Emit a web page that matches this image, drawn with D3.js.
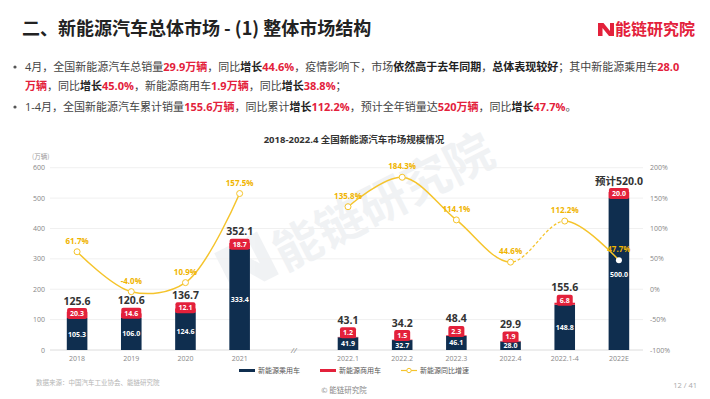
<!DOCTYPE html>
<html>
<head>
<meta charset="utf-8">
<script src="https://cdn.jsdelivr.net/npm/d3@7"></script>
<style>
  body { margin: 0; background: #fff; }
  svg { display: block; font-family: "Open Sans", "Noto Sans CJK SC", sans-serif; }
</style>
</head>
<body>
<svg id="chart" width="710" height="399"></svg>
<script>
// categories, "gap" is the // break between years and months
const categories = ["2018", "2019", "2020", "2021", "gap", "2022.1", "2022.2", "2022.3", "2022.4", "2022.1-4", "2022E"];
const passenger = [105.3, 106.0, 124.6, 333.4, null, 41.9, 32.7, 46.1, 28.0, 148.8, 500.0];
const commercial = [20.3, 14.6, 12.1, 18.7, null, 1.2, 1.5, 2.3, 1.9, 6.8, 20.0];
const totals = [125.6, 120.6, 136.7, 352.1, null, 43.1, 34.2, 48.4, 29.9, 155.6, 520.0];
const growth = [61.7, -4.0, 10.9, 157.5, null, 135.8, 184.3, 114.1, 44.6, 112.2, 47.7];
const leftTicks = [0, 100, 200, 300, 400, 500, 600];
const rightTicks = [-100, -50, 0, 50, 100, 150, 200];

const navy = "#0f2e4f", red = "#e3213b", gold = "#f5c42c", goldText = "#f0b400";

const svg = d3.select("#chart");

// header
svg.append("text")
  .attr("x", 22).attr("y", 35)
  .style("font-family", "'Noto Sans CJK SC'")
  .style("font-size", "18px").style("font-weight", "bold").style("fill", "#222")
  .text("二、新能源汽车总体市场 - (1) 整体市场结构");

svg.append("path")
  .attr("d", "M598,23 L603.5,23 L610,31 L610,23 L614,23 L614,36 L609,36 L602.5,28 L602.5,36 L598,36 Z")
  .style("fill", red);
svg.append("text")
  .attr("x", 615).attr("y", 35)
  .style("font-family", "'Noto Sans CJK SC'")
  .style("font-size", "16px").style("font-weight", "bold").style("fill", red)
  .text("能链研究院");

// bullet text
const N = 0, R = 1, B = 2;
const bullets = [
  { y: 71, dot: true, parts: [["4月，全国新能源汽车总销量", N], ["29.9万辆", R], ["，同比", N], ["增长", B], ["44.6%", R], ["，疫情影响下，市场", N], ["依然高于去年同期", B], ["，", N], ["总体表现较好", B], ["；其中新能源乘用车", N], ["28.0", R]] },
  { y: 90, dot: false, parts: [["万辆", R], ["，同比", N], ["增长", B], ["45.0%", R], ["，新能源商用车", N], ["1.9万辆", R], ["，同比", N], ["增长", B], ["38.8%", R], ["；", N]] },
  { y: 111, dot: true, parts: [["1-4月，全国新能源汽车累计销量", N], ["155.6万辆", R], ["，同比累计", N], ["增长", B], ["112.2%", R], ["，预计全年销量达", N], ["520万辆", R], ["，同比", N], ["增长", B], ["47.7%", R], ["。", N]] }
];
bullets.forEach(b => {
  if (b.dot) {
    svg.append("circle").attr("cx", 15).attr("cy", b.y - 4).attr("r", 1.6).style("fill", "#555");
  }
  const t = svg.append("text")
    .attr("x", 25).attr("y", b.y)
    .style("font-size", "11px").style("fill", "#444");
  t.selectAll("tspan").data(b.parts).enter().append("tspan")
    .text(d => d[0])
    .style("font-weight", d => d[1] == N ? "normal" : "bold")
    .style("fill", d => d[1] == R ? red : (d[1] == B ? "#222" : "#444"));
});

// chart title
svg.append("text")
  .attr("x", 354).attr("y", 143).attr("text-anchor", "middle")
  .style("font-size", "9.5px").style("font-weight", "bold").style("fill", "#333")
  .text("2018-2022.4 全国新能源汽车市场规模情况");

// scales
const x = d3.scaleBand().domain(categories).range([50, 646]).paddingInner(0.62).paddingOuter(0.31);
const y = d3.scaleLinear().domain([0, 600]).range([350, 167.7]);
const y2 = d3.scaleLinear().domain([-100, 200]).range([350, 167.7]);

// watermark
const wm = svg.append("g")
  .attr("transform", "translate(236,296) rotate(-27)")
  .style("opacity", 0.12);
wm.append("path")
  .attr("d", "M0,-48 L16,-48 L36,-18 L36,-48 L48,-48 L48,0 L32,0 L12,-30 L12,0 L0,0 Z")
  .style("fill", "#8a99aa");
wm.append("text")
  .attr("x", 54).attr("y", 0)
  .style("font-family", "'Noto Sans CJK SC'")
  .style("font-size", "48px").style("font-weight", "bold").style("fill", "#8a99aa")
  .text("能链研究院");

// gridlines
svg.append("g").selectAll("line").data(leftTicks).enter().append("line")
  .attr("x1", 50).attr("x2", 643)
  .attr("y1", d => y(d)).attr("y2", d => y(d))
  .style("stroke", d => d == 0 ? "#dcdcdc" : "#f0f0f0").style("stroke-width", 1);

svg.append("g").selectAll("text").data(leftTicks).enter().append("text")
  .attr("x", 45).attr("y", d => y(d) + 2.5).attr("text-anchor", "end")
  .style("font-size", "7px").style("fill", "#888")
  .text(d => d);

svg.append("g").selectAll("text").data(rightTicks).enter().append("text")
  .attr("x", 650).attr("y", d => y2(d) + 2.5)
  .style("font-size", "7px").style("fill", "#888")
  .text(d => d + "%");

svg.append("text")
  .attr("x", 32).attr("y", 159)
  .style("font-family", "'Noto Sans CJK SC'")
  .style("font-size", "6.5px").style("fill", "#999")
  .text("(万辆)");

// x labels
svg.append("g").selectAll("text").data(categories).enter().append("text")
  .attr("x", d => x(d) + x.bandwidth() / 2)
  .attr("y", d => d == "gap" ? 352.5 : 361)
  .attr("text-anchor", "middle")
  .style("font-size", d => d == "gap" ? "8px" : "7px")
  .style("font-style", d => d == "gap" ? "italic" : "normal")
  .style("fill", "#888")
  .text(d => d == "gap" ? "//" : d);

// bars
const rows = categories.map((c, i) => ({
  cat: c, pv: passenger[i], cv: commercial[i], tot: totals[i], g: growth[i]
}));
const barRows = rows.filter(d => d.pv != null);

const bars = svg.append("g");
bars.selectAll(".pv").data(barRows).enter().append("rect")
  .attr("x", d => x(d.cat)).attr("width", x.bandwidth())
  .attr("y", d => y(d.pv)).attr("height", d => y(0) - y(d.pv))
  .style("fill", navy);
bars.selectAll(".cv").data(barRows).enter().append("rect")
  .attr("x", d => x(d.cat)).attr("width", x.bandwidth())
  .attr("y", d => y(d.pv + d.cv)).attr("height", d => y(d.pv) - y(d.pv + d.cv))
  .style("fill", red);

// red label boxes sitting on top of the navy bars
const boxH = 11;
const cvLab = bars.selectAll(".cvlab").data(barRows).enter().append("g");
cvLab.append("text")
  .attr("x", d => x(d.cat) + x.bandwidth() / 2)
  .attr("y", d => y(d.pv) - boxH / 2 + 3.5)
  .attr("text-anchor", "middle")
  .style("font-size", "7px").style("font-weight", "bold").style("fill", "#fff")
  .text(d => d.cv.toFixed(1))
  .each(function (d) { d.tw = this.getComputedTextLength(); });
cvLab.insert("rect", "text")
  .attr("x", d => x(d.cat) + x.bandwidth() / 2 - Math.min(d.tw + 6, x.bandwidth()) / 2)
  .attr("width", d => Math.min(d.tw + 6, x.bandwidth()))
  .attr("y", d => y(d.pv) - boxH + 1).attr("height", boxH)
  .attr("rx", 2)
  .style("fill", red);

// navy values
bars.selectAll(".pvlab").data(barRows).enter().append("text")
  .attr("x", d => x(d.cat) + x.bandwidth() / 2)
  .attr("y", d => (y(d.pv) + y(0)) / 2 + 2.5)
  .attr("text-anchor", "middle")
  .style("font-size", "7px").style("font-weight", "bold").style("fill", "#fff")
  .text(d => d.pv.toFixed(1));

// totals
bars.selectAll(".tot").data(barRows).enter().append("text")
  .attr("x", d => x(d.cat) + x.bandwidth() / 2)
  .attr("y", d => y(d.pv) - boxH - 2.5)
  .attr("text-anchor", "middle")
  .style("font-size", "10.5px").style("font-weight", "bold").style("fill", "#333")
  .text(d => (d.cat == "2022E" ? "预计" : "") + d.tot.toFixed(1));

// growth line
const cx = d => x(d.cat) + x.bandwidth() / 2;
const line = d3.line()
  .defined(d => d.g != null)
  .x(cx).y(d => y2(d.g))
  .curve(d3.curveCatmullRom.alpha(0.5));

const dashFrom = cx(rows[8]), dashTo = cx(rows[9]);
const defs = svg.append("defs");
defs.append("clipPath").attr("id", "solidClip")
  .selectAll("rect").data([[0, dashFrom], [dashTo, 710]]).enter().append("rect")
  .attr("x", d => d[0]).attr("width", d => d[1] - d[0]).attr("y", 0).attr("height", 399);
defs.append("clipPath").attr("id", "dashClip")
  .append("rect").attr("x", dashFrom).attr("width", dashTo - dashFrom).attr("y", 0).attr("height", 399);

svg.append("path").datum(rows).attr("d", line)
  .attr("clip-path", "url(#solidClip)")
  .style("fill", "none").style("stroke", gold).style("stroke-width", 1.5);
svg.append("path").datum(rows).attr("d", line)
  .attr("clip-path", "url(#dashClip)")
  .style("fill", "none").style("stroke", gold).style("stroke-width", 1.3)
  .style("stroke-dasharray", "3,2");

const pts = rows.filter(d => d.g != null);
svg.append("g").selectAll("circle").data(pts).enter().append("circle")
  .attr("cx", cx).attr("cy", d => y2(d.g)).attr("r", 3)
  .style("fill", "#fff")
  .style("stroke", d => d.cat == "2022E" ? "none" : gold).style("stroke-width", 1);

svg.append("g").selectAll("text").data(pts).enter().append("text")
  .attr("x", cx).attr("y", d => y2(d.g) - 8)
  .attr("text-anchor", "middle")
  .style("font-size", "8px").style("font-weight", "bold").style("fill", goldText)
  .text(d => d.g.toFixed(1) + "%");

// legend
const legend = svg.append("g").style("font-family", "'Noto Sans CJK SC'");
legend.append("rect").attr("x", 239).attr("y", 369).attr("width", 16).attr("height", 3).style("fill", navy);
legend.append("text").attr("x", 258).attr("y", 373).style("font-size", "7px").style("fill", "#555").text("新能源乘用车");
legend.append("rect").attr("x", 320).attr("y", 369).attr("width", 16).attr("height", 3).style("fill", red);
legend.append("text").attr("x", 339).attr("y", 373).style("font-size", "7px").style("fill", "#555").text("新能源商用车");
legend.append("line").attr("x1", 401).attr("x2", 417).attr("y1", 370.5).attr("y2", 370.5).style("stroke", gold).style("stroke-width", 1.2);
legend.append("circle").attr("cx", 409).attr("cy", 370.5).attr("r", 2.2).style("fill", "#fff").style("stroke", gold);
legend.append("text").attr("x", 420).attr("y", 373).style("font-size", "7px").style("fill", "#555").text("新能源同比增速");

// footer
svg.append("text").attr("x", 36).attr("y", 385)
  .style("font-family", "'Noto Sans CJK SC'")
  .style("font-size", "6.5px").style("fill", "#b5b5b5")
  .text("数据来源：中国汽车工业协会、能链研究院");
svg.append("text").attr("x", 344).attr("y", 393).attr("text-anchor", "middle")
  .style("font-family", "'Noto Sans CJK SC'")
  .style("font-size", "7.5px").style("fill", "#888")
  .text("© 能链研究院");
svg.append("text").attr("x", 697).attr("y", 388).attr("text-anchor", "end")
  .style("font-size", "7.5px").style("fill", "#aaa")
  .text("12 / 41");
</script>
</body>
</html>
